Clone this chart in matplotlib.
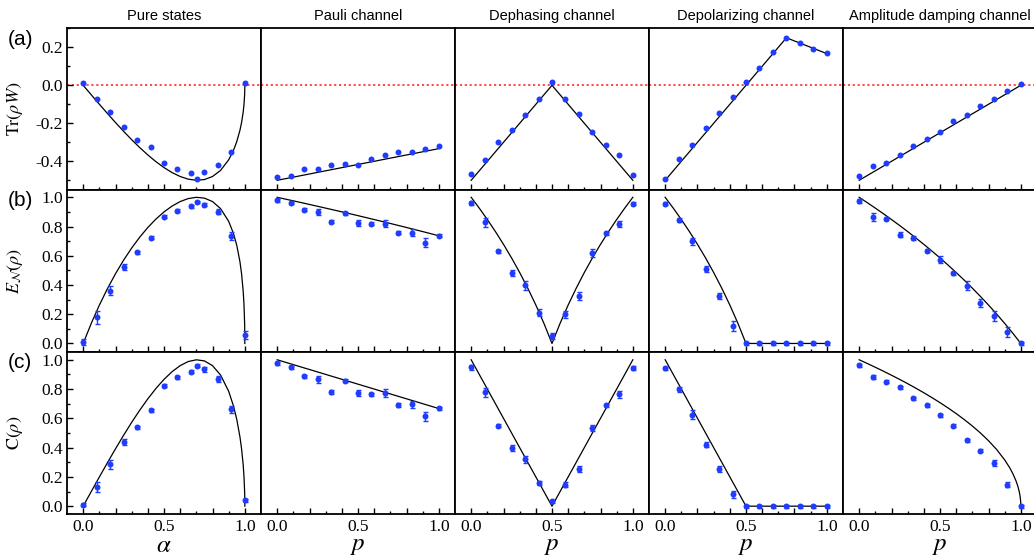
import matplotlib
matplotlib.use('Agg')
import matplotlib.pyplot as plt
from matplotlib.ticker import FixedLocator, MultipleLocator, NullFormatter

plt.rcParams['mathtext.fontset'] = 'stix'
plt.rcParams['font.family'] = 'Liberation Serif'

# measured points: alpha / p grids
alpha = [0.0, 0.083, 0.167, 0.25, 0.333, 0.417, 0.5, 0.583, 0.667, 0.707, 0.75, 0.833, 0.917, 1.0]
p_pts = [0.0, 0.083, 0.167, 0.25, 0.333, 0.417, 0.5, 0.583, 0.667, 0.75, 0.833, 0.917, 1.0]

pure_w = [0.011, -0.074, -0.140, -0.217, -0.289, -0.324, -0.407, -0.442, -0.463, -0.491, -0.458, -0.421, -0.352, 0.011]
pure_en = [0.011, 0.18, 0.361, 0.523, 0.623, 0.723, 0.866, 0.909, 0.939, 0.968, 0.95, 0.902, 0.736, 0.057]
pure_c = [0.009, 0.132, 0.285, 0.437, 0.54, 0.654, 0.822, 0.881, 0.918, 0.959, 0.934, 0.87, 0.661, 0.039]
pure_en_err = [0.02, 0.045, 0.03, 0.02, 0.01, 0.01, 0.01, 0.01, 0.01, 0.01, 0.01, 0.015, 0.025, 0.025]
pure_c_err = [0.01, 0.035, 0.03, 0.02, 0.01, 0.01, 0.01, 0.01, 0.01, 0.01, 0.015, 0.02, 0.025, 0.01]

pauli_w = [-0.48, -0.477, -0.44, -0.44, -0.417, -0.416, -0.417, -0.389, -0.366, -0.352, -0.350, -0.335, -0.317]
pauli_en = [0.980, 0.961, 0.916, 0.898, 0.832, 0.891, 0.825, 0.818, 0.820, 0.759, 0.759, 0.689, 0.736]
pauli_c = [0.975, 0.95, 0.888, 0.866, 0.781, 0.856, 0.772, 0.765, 0.772, 0.692, 0.695, 0.615, 0.670]
pauli_en_err = [0.01, 0.01, 0.01, 0.02, 0.01, 0.01, 0.02, 0.01, 0.025, 0.01, 0.025, 0.03, 0.01]
pauli_c_err = [0.01, 0.01, 0.01, 0.025, 0.015, 0.01, 0.02, 0.01, 0.025, 0.015, 0.025, 0.03, 0.01]

deph_w = [-0.468, -0.395, -0.300, -0.235, -0.156, -0.070, 0.016, -0.071, -0.149, -0.245, -0.316, -0.368, -0.474]
deph_en = [0.961, 0.830, 0.630, 0.482, 0.398, 0.211, 0.052, 0.2, 0.325, 0.618, 0.755, 0.818, 0.957]
deph_c = [0.948, 0.779, 0.549, 0.399, 0.321, 0.157, 0.034, 0.148, 0.251, 0.535, 0.688, 0.763, 0.943]
deph_en_err = [0.015, 0.03, 0.01, 0.02, 0.03, 0.025, 0.02, 0.025, 0.03, 0.025, 0.01, 0.02, 0.01]
deph_c_err = [0.015, 0.03, 0.01, 0.02, 0.025, 0.015, 0.01, 0.02, 0.02, 0.02, 0.01, 0.025, 0.015]

depol_w = [-0.495, -0.389, -0.314, -0.223, -0.147, -0.061, 0.018, 0.092, 0.174, 0.247, 0.221, 0.189, 0.168]
depol_en = [0.957, 0.843, 0.698, 0.509, 0.325, 0.118, 0.0, 0.0, 0.0, 0.0, 0.0, 0.0, 0.0]
depol_c = [0.943, 0.797, 0.624, 0.421, 0.251, 0.082, 0.0, 0.0, 0.0, 0.0, 0.0, 0.0, 0.0]
depol_en_err = [0.01, 0.015, 0.025, 0.02, 0.02, 0.035, 0.01, 0.01, 0.01, 0.01, 0.01, 0.01, 0.01]
depol_c_err = [0.01, 0.02, 0.03, 0.02, 0.02, 0.025, 0.01, 0.01, 0.01, 0.01, 0.01, 0.01, 0.01]

amp_w = [-0.479, -0.426, -0.407, -0.366, -0.317, -0.282, -0.244, -0.189, -0.156, -0.107, -0.072, -0.032, 0.005]
amp_en = [0.973, 0.866, 0.852, 0.745, 0.720, 0.636, 0.573, 0.480, 0.395, 0.277, 0.186, 0.077, 0.0]
amp_c = [0.961, 0.884, 0.850, 0.811, 0.738, 0.688, 0.620, 0.549, 0.451, 0.380, 0.294, 0.148, 0.0]
amp_en_err = [0.015, 0.025, 0.01, 0.015, 0.015, 0.01, 0.025, 0.01, 0.03, 0.03, 0.035, 0.035, 0.01]
amp_c_err = [0.01, 0.015, 0.01, 0.01, 0.01, 0.01, 0.01, 0.01, 0.01, 0.01, 0.02, 0.015, 0.01]

# theory curves
a_th = [0, 0.05, 0.1, 0.15, 0.2, 0.25, 0.3, 0.35, 0.4, 0.45, 0.5, 0.55, 0.6, 0.65, 0.7,
        0.75, 0.8, 0.85, 0.9, 0.93, 0.95, 0.97, 0.98, 0.99, 0.995, 0.999, 1.0]
pure_w_th = [0, -0.0500, -0.0995, -0.1483, -0.1960, -0.2421, -0.2862, -0.3279, -0.3666, -0.4019,
             -0.4330, -0.4594, -0.48, -0.4940, -0.4999, -0.4961, -0.48, -0.4478, -0.3923, -0.3419,
             -0.2967, -0.2358, -0.1950, -0.1397, -0.0994, -0.0447, 0]
pure_en_th = [0, 0.1374, 0.2618, 0.3747, 0.4771, 0.5696, 0.6530, 0.7275, 0.7934, 0.8510, 0.9000,
              0.9401, 0.9709, 0.9913, 0.9999, 0.9944, 0.9709, 0.9226, 0.8356, 0.7517, 0.6721,
              0.5574, 0.4751, 0.3554, 0.2614, 0.1234, 0]
pure_c_th = [0, 0.0999, 0.1990, 0.2966, 0.3919, 0.4841, 0.5724, 0.6557, 0.7332, 0.8037, 0.8660,
             0.9187, 0.96, 0.9879, 0.9998, 0.9922, 0.96, 0.8955, 0.7846, 0.6837, 0.5933, 0.4716,
             0.3900, 0.2793, 0.1987, 0.0893, 0]

p_ends = [0.0, 1.0]
p_tenth = [0.0, 0.1, 0.2, 0.3, 0.4, 0.5, 0.6, 0.7, 0.8, 0.9, 1.0]
p_half = [0.0, 0.05, 0.1, 0.15, 0.2, 0.25, 0.3, 0.35, 0.4, 0.45, 0.5, 0.55, 0.6, 0.65, 0.7,
          0.75, 0.8, 0.85, 0.9, 0.95, 1.0]

pauli_w_th = [-0.5, -0.3333]
pauli_en_th = [1.0, 0.9758, 0.9511, 0.9260, 0.9005, 0.8745, 0.8480, 0.8210, 0.7936, 0.7655, 0.7370]
pauli_c_th = [1.0, 0.6667]

deph_p_w = [0.0, 0.5, 1.0]
deph_w_th = [-0.5, 0.0, -0.5]
deph_en_th = [1.0, 0.9260, 0.8480, 0.7655, 0.6781, 0.5850, 0.4854, 0.3785, 0.2630, 0.1375, 0.0,
              0.1375, 0.2630, 0.3785, 0.4854, 0.5850, 0.6781, 0.7655, 0.8480, 0.9260, 1.0]
deph_c_th = [1.0, 0.0, 1.0]

depol_p_w = [0.0, 0.75, 1.0]
depol_w_th = [-0.5, 0.25, 0.1667]
depol_p_en = [0.0, 0.05, 0.1, 0.15, 0.2, 0.25, 0.3, 0.35, 0.4, 0.45, 0.5, 1.0]
depol_en_th = [1.0, 0.9260, 0.8480, 0.7655, 0.6781, 0.5850, 0.4854, 0.3785, 0.2630, 0.1375, 0.0, 0.0]
depol_c_th = [1.0, 0.0, 0.0]

amp_w_th = [-0.5, 0.0]
amp_en_th = [1.0, 0.9635, 0.9260, 0.8875, 0.8480, 0.8074, 0.7655, 0.7225, 0.6781, 0.6323, 0.5850,
             0.5361, 0.4854, 0.4330, 0.3785, 0.3219, 0.2630, 0.2016, 0.1375, 0.0704, 0.0]
amp_p_c = [0.0, 0.05, 0.1, 0.15, 0.2, 0.25, 0.3, 0.35, 0.4, 0.45, 0.5, 0.55, 0.6, 0.65, 0.7,
           0.75, 0.8, 0.85, 0.9, 0.93, 0.95, 0.97, 0.98, 0.99, 0.995, 0.999, 1.0]
amp_c_th = [1.0, 0.9747, 0.9487, 0.9220, 0.8944, 0.8660, 0.8367, 0.8062, 0.7746, 0.7416, 0.7071,
            0.6708, 0.6325, 0.5916, 0.5477, 0.5, 0.4472, 0.3873, 0.3162, 0.2646, 0.2236, 0.1732,
            0.1414, 0.1, 0.0707, 0.0316, 0.0]

titles = ['Pure states', 'Pauli channel', 'Dephasing channel', 'Depolarizing channel',
          'Amplitude damping channel']

columns = [
    dict(x=alpha, x_label=r'$\alpha$',
         rows=[(pure_w, None, a_th, pure_w_th), (pure_en, pure_en_err, a_th, pure_en_th),
               (pure_c, pure_c_err, a_th, pure_c_th)]),
    dict(x=p_pts, x_label=r'$p$',
         rows=[(pauli_w, None, p_ends, pauli_w_th), (pauli_en, pauli_en_err, p_tenth, pauli_en_th),
               (pauli_c, pauli_c_err, p_ends, pauli_c_th)]),
    dict(x=p_pts, x_label=r'$p$',
         rows=[(deph_w, None, deph_p_w, deph_w_th), (deph_en, deph_en_err, p_half, deph_en_th),
               (deph_c, deph_c_err, deph_p_w, deph_c_th)]),
    dict(x=p_pts, x_label=r'$p$',
         rows=[(depol_w, None, depol_p_w, depol_w_th), (depol_en, depol_en_err, depol_p_en, depol_en_th),
               (depol_c, depol_c_err, deph_p_w, depol_c_th)]),
    dict(x=p_pts, x_label=r'$p$',
         rows=[(amp_w, None, p_ends, amp_w_th), (amp_en, amp_en_err, p_half, amp_en_th),
               (amp_c, amp_c_err, amp_p_c, amp_c_th)]),
]

row_ylim = [(-0.55, 0.30), (-0.055, 1.05), (-0.05, 1.053)]
row_ylabel = [r'$\mathrm{Tr}(\rho W)$', r'$E_{\mathcal{N}}(\rho)$', r'$\mathrm{C}(\rho)$']
row_tag = ['(a)', '(b)', '(c)']

W, H = 1034, 559
fig = plt.figure(figsize=(W / 100, H / 100), dpi=100)

left0, col_w = 67, 194
row_top = [28.3, 190, 352]
row_h = 161.5
blue = '#1f3cff'

for j, col in enumerate(columns):
    for i in range(3):
        y, err, xt, yt = col['rows'][i]
        ax = fig.add_axes([(left0 + j * col_w) / W, 1 - (row_top[i] + row_h) / H, col_w / W, row_h / H])
        ax.set_xlim(-0.1, 1.1)
        ax.set_ylim(*row_ylim[i])
        if i == 0:
            ax.axhline(0, color='#ff3b3b', ls=(0, (1.2, 1.5)), lw=1.3, zorder=1)
        ax.plot(xt, yt, color='black', lw=0.9, zorder=2)
        if err is None:
            ax.plot(col['x'], y, 'o', color=blue, ms=4.3, mec='none', zorder=3)
        else:
            ax.errorbar(col['x'], y, yerr=err, fmt='o', color=blue, ms=4.3, mec='none',
                        elinewidth=1.0, capsize=1.8, capthick=1.0, zorder=3)
        for s in ax.spines.values():
            s.set_linewidth(1.3)

        ax.xaxis.set_major_locator(FixedLocator([0.0, 0.2, 0.4, 0.5, 0.6, 0.8, 1.0]))
        ax.xaxis.set_minor_locator(FixedLocator([0.1, 0.3, 0.7, 0.9]))
        ax.tick_params(axis='x', which='major', direction='in', length=4, width=1.0,
                       top=False, labelsize=12.5, pad=4)
        ax.tick_params(axis='x', which='minor', direction='in', length=2, width=1.0, top=False)
        if i == 2:
            ax.set_xticklabels(['0.0', '', '', '0.5', '', '', '1.0'])
            ax.set_xlabel(col['x_label'], fontsize=18, labelpad=0)
        else:
            ax.xaxis.set_major_formatter(NullFormatter())

        if j == 0:
            if i == 0:
                ax.set_yticks([-0.4, -0.2, 0.0, 0.2])
                ax.set_yticklabels(['-0.4', '-0.2', '0.0', '0.2'])
            else:
                ax.set_yticks([0.0, 0.2, 0.4, 0.6, 0.8, 1.0])
                ax.set_yticklabels(['0.0', '0.2', '0.4', '0.6', '0.8', '1.0'])
            ax.yaxis.set_minor_locator(MultipleLocator(0.1))
            ax.tick_params(axis='y', which='major', direction='in', length=4, width=1.0,
                           right=False, labelsize=12.5, pad=3)
            ax.tick_params(axis='y', which='minor', direction='in', length=2, width=1.0, right=False)
            ax.set_ylabel(row_ylabel[i], fontsize=13)
            ax.yaxis.set_label_coords(-0.215, 0.5)
            fig.text(8 / W, 1 - (row_top[i] + 11) / H, row_tag[i], family='Liberation Sans',
                     fontsize=15, va='center', ha='left')
        else:
            ax.tick_params(axis='y', which='both', left=False, right=False, labelleft=False)

        if i == 0:
            ax.set_title(titles[j], family='Liberation Sans', fontsize=10.5, pad=6)

fig.savefig('out.png', dpi=100)
